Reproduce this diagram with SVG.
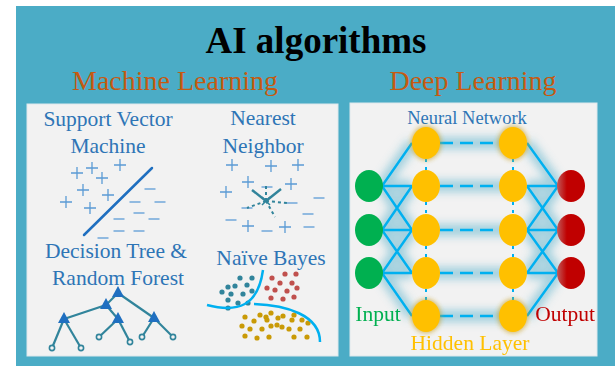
<svg xmlns="http://www.w3.org/2000/svg" width="615" height="366" viewBox="0 0 615 366">
<defs>
<style>
.title{font-size:37px;font-weight:bold;fill:#000}
.sub{font-size:28px;fill:#C55A11}
.lbl{font-size:21.5px;fill:#2E75B6}
.pm{stroke:#5B9BD5;stroke-width:1.3;fill:none}
.teal{stroke:#31849B;fill:none}
.tri{fill:#1F6FC0}
.leaf{fill:#F2F2F2;stroke:#31849B;stroke-width:1.6}
.dt{fill:#31849B}
.dr{fill:#C0504D}
.dg{fill:#C99A06}
.curve{stroke:#00B0F0;stroke-width:2.5;fill:none}
.conn{stroke:#00B0F0;stroke-width:2.4;fill:none}
.dash{stroke:#00B0F0;stroke-width:2.4;stroke-dasharray:13 7;fill:none}
.dot{stroke:#00B0F0;stroke-width:2;stroke-dasharray:3 5;fill:none}
.glow{stroke:#5FB4CE;stroke-width:12;fill:none;opacity:0.55}
.hid{fill:#FFC000}
.inp{fill:#00B050}
.out{fill:url(#redg)}
</style>
<filter id="blur" x="-20%" y="-20%" width="140%" height="140%"><feGaussianBlur stdDeviation="4"/></filter>
<filter id="sblur" x="-50%" y="-50%" width="200%" height="200%"><feGaussianBlur stdDeviation="2"/></filter>
<linearGradient id="redg" x1="0" y1="0" x2="1" y2="0">
<stop offset="0" stop-color="#C25A5A"/>
<stop offset="0.35" stop-color="#C00000"/>
<stop offset="1" stop-color="#C00000"/>
</linearGradient>
<path id="plus" d="M-6,0H6M0,-6V6"/>
<path id="minus" d="M-5.5,0H5.5"/>
</defs>

<rect x="16" y="6" width="599" height="360" fill="#4BACC6"/>
<g font-family="Liberation Serif, Times New Roman, serif">
<text class="title" x="316" y="53" text-anchor="middle" font-family="Liberation Serif, Times New Roman, serif">AI algorithms</text>
<text class="sub" x="175" y="90" text-anchor="middle" font-family="Liberation Serif, Times New Roman, serif">Machine Learning</text>
<text class="sub" x="473" y="90" text-anchor="middle" font-family="Liberation Serif, Times New Roman, serif">Deep Learning</text>
</g>

<g id="ml-panel">
<rect x="27" y="104" width="311" height="252" fill="#F2F2F2" stroke="#DDE8EC" stroke-width="1"/>
</g>

<g id="svm">
<text class="lbl" x="108" y="126" text-anchor="middle" font-family="Liberation Serif, Times New Roman, serif">Support Vector</text>
<text class="lbl" x="108" y="153" text-anchor="middle" font-family="Liberation Serif, Times New Roman, serif">Machine</text>
<g class="pm">
<use href="#plus" x="77" y="173"/><use href="#plus" x="92" y="168"/><use href="#plus" x="102" y="178"/><use href="#plus" x="120" y="165"/>
<use href="#plus" x="83" y="190"/><use href="#plus" x="108" y="195"/><use href="#plus" x="66" y="202"/><use href="#plus" x="90" y="208"/>
<use href="#minus" x="150" y="189"/><use href="#minus" x="135" y="202"/><use href="#minus" x="160" y="202"/><use href="#minus" x="139" y="213"/>
<use href="#minus" x="154" y="219"/><use href="#minus" x="119" y="219"/><use href="#minus" x="119" y="231"/><use href="#minus" x="139" y="231"/><use href="#minus" x="103" y="238"/>
</g>
<line x1="152" y1="168" x2="84" y2="235" stroke="#1F6FC0" stroke-width="2.5" stroke-linecap="round"/>
</g>

<g id="nearest-neighbor">
<text class="lbl" x="263" y="125" text-anchor="middle" font-family="Liberation Serif, Times New Roman, serif">Nearest</text>
<text class="lbl" x="263" y="153" text-anchor="middle" font-family="Liberation Serif, Times New Roman, serif">Neighbor</text>
<g class="pm">
<use href="#plus" x="232" y="165"/><use href="#plus" x="271" y="166"/><use href="#plus" x="298" y="165"/><use href="#plus" x="248" y="182"/>
<use href="#plus" x="291" y="184"/><use href="#plus" x="226" y="192"/><use href="#plus" x="248" y="226"/><use href="#plus" x="285" y="227"/>
<use href="#minus" x="267" y="187"/><use href="#minus" x="319" y="198"/><use href="#minus" x="292" y="203"/><use href="#minus" x="247" y="208"/>
<use href="#minus" x="231" y="220"/><use href="#minus" x="308" y="214"/><use href="#minus" x="267" y="231"/><use href="#minus" x="309" y="227"/>
</g>
<g class="teal" stroke-width="2.4">
<line x1="266" y1="201" x2="252" y2="190"/>
<line x1="266" y1="201" x2="281" y2="189"/>
</g>
<g class="teal" stroke-width="2" stroke-dasharray="3 3">
<line x1="266" y1="201" x2="266" y2="186"/>
<line x1="266" y1="201" x2="247" y2="208"/>
<line x1="266" y1="201" x2="287" y2="203"/>
<line x1="266" y1="201" x2="275" y2="217"/>
</g>
<path d="M262,197L270,205M270,197L262,205" stroke="#31849B" stroke-width="1.5"/>
</g>

<g id="decision-tree">
<text class="lbl" x="116" y="258" text-anchor="middle" font-family="Liberation Serif, Times New Roman, serif">Decision Tree &amp;</text>
<text class="lbl" x="118" y="285" text-anchor="middle" font-family="Liberation Serif, Times New Roman, serif">Random Forest</text>
<g class="teal" stroke-width="2.2">
<line x1="118" y1="293" x2="106" y2="305"/>
<line x1="118" y1="293" x2="154" y2="318"/>
<line x1="106" y1="305" x2="64" y2="319"/>
<line x1="106" y1="305" x2="118" y2="319"/>
<line x1="64" y1="319" x2="52" y2="348"/>
<line x1="64" y1="319" x2="81" y2="348"/>
<line x1="118" y1="319" x2="99" y2="337"/>
<line x1="118" y1="319" x2="130" y2="342"/>
<line x1="154" y1="318" x2="142" y2="337"/>
<line x1="154" y1="318" x2="173" y2="337"/>
</g>
<g class="tri">
<path d="M118,286L124,297L112,297Z"/>
<path d="M106,298L112,309L100,309Z"/>
<path d="M64,312L70,323L58,323Z"/>
<path d="M118,312L124,323L112,323Z"/>
<path d="M154,311L160,322L148,322Z"/>
</g>
<g class="leaf">
<circle cx="52" cy="348" r="2.6"/><circle cx="81" cy="348" r="2.6"/><circle cx="99" cy="337" r="2.6"/>
<circle cx="130" cy="342" r="2.6"/><circle cx="142" cy="337" r="2.6"/><circle cx="173" cy="337" r="2.6"/>
</g>
</g>

<g id="naive-bayes">
<text class="lbl" x="271" y="265" text-anchor="middle" font-family="Liberation Serif, Times New Roman, serif">Naïve Bayes</text>
<g class="dt">
<circle cx="240" cy="278" r="2.6"/><circle cx="252" cy="278" r="2.6"/><circle cx="228" cy="287" r="2.6"/><circle cx="235" cy="286" r="2.6"/>
<circle cx="247" cy="285" r="2.6"/><circle cx="222" cy="292" r="2.6"/><circle cx="231" cy="294" r="2.6"/><circle cx="243" cy="294" r="2.6"/>
<circle cx="252" cy="291" r="2.6"/><circle cx="228" cy="300" r="2.6"/><circle cx="238" cy="303" r="2.6"/><circle cx="248" cy="303" r="2.6"/><circle cx="228" cy="308" r="2.6"/>
</g>
<g class="dr">
<circle cx="285" cy="274" r="2.6"/><circle cx="296" cy="274" r="2.6"/><circle cx="272" cy="278" r="2.6"/><circle cx="280" cy="283" r="2.6"/>
<circle cx="292" cy="283" r="2.6"/><circle cx="267" cy="288" r="2.6"/><circle cx="275" cy="290" r="2.6"/><circle cx="287" cy="291" r="2.6"/>
<circle cx="297" cy="288" r="2.6"/><circle cx="271" cy="298" r="2.6"/><circle cx="283" cy="299" r="2.6"/><circle cx="294" cy="297" r="2.6"/>
</g>
<g class="dg">
<circle cx="245" cy="317" r="2.6"/><circle cx="254" cy="321" r="2.6"/><circle cx="260" cy="315" r="2.6"/><circle cx="267" cy="320" r="2.6"/>
<circle cx="271" cy="313" r="2.6"/><circle cx="278" cy="318" r="2.6"/><circle cx="283" cy="316" r="2.6"/><circle cx="292" cy="320" r="2.6"/>
<circle cx="294" cy="315" r="2.6"/><circle cx="302" cy="320" r="2.6"/><circle cx="308" cy="323" r="2.6"/><circle cx="242" cy="326" r="2.6"/>
<circle cx="250" cy="329" r="2.6"/><circle cx="262" cy="329" r="2.6"/><circle cx="271" cy="326" r="2.6"/><circle cx="282" cy="327" r="2.6"/>
<circle cx="289" cy="329" r="2.6"/><circle cx="300" cy="329" r="2.6"/><circle cx="245" cy="336" r="2.6"/><circle cx="257" cy="338" r="2.6"/>
<circle cx="269" cy="337" r="2.6"/><circle cx="294" cy="337" r="2.6"/><circle cx="307" cy="337" r="2.6"/><circle cx="266" cy="317" r="2.6"/><circle cx="277" cy="325" r="2.6"/>
</g>
<path class="curve" d="M207,305C238,313 258,306 263,270"/>
<path class="curve" d="M254,304C286,305 320,315 320,342"/>
</g>

<g id="dl-panel">
<rect x="350" y="103" width="247" height="253" fill="#F2F2F2" stroke="#DDE8EC" stroke-width="1"/>
<text x="467" y="124" text-anchor="middle" font-size="18.5" fill="#2E75B6" font-family="Liberation Serif, Times New Roman, serif">Neural Network</text>
</g>

<g id="glow" filter="url(#blur)">
<path class="glow" d="M382,186L412,143M382,186H412M382,186L412,230M382,230L412,186M382,230H412M382,230L412,273M382,273L412,230M382,273H412M382,273L412,316"/>
<path class="glow" d="M527,143L558,186M527,186H558M527,186L558,230M527,230L558,186M527,230H558M527,230L558,273M527,273L558,230M527,273H558M527,316L558,273"/>
<path class="glow" d="M426,143H513M426,186H513M426,230H513M426,273H513M426,316H513"/>
</g>

<g id="connectors">
<path class="conn" d="M382,186L412,143M382,186H412M382,186L412,230M382,230L412,186M382,230H412M382,230L412,273M382,273L412,230M382,273H412M382,273L412,316"/>
<path class="conn" d="M527,143L558,186M527,186H558M527,186L558,230M527,230L558,186M527,230H558M527,230L558,273M527,273L558,230M527,273H558M527,316L558,273"/>
<path class="dash" d="M440,143H499M440,186H499M440,230H499M440,273H499M440,316H499"/>
<path class="dot" d="M426,159V170M426,202V214M426,246V257M426,289V300M513,159V170M513,202V214M513,246V257M513,289V300"/>
</g>

<g id="input-1"><ellipse class="inp" cx="369" cy="186" rx="14" ry="16"/></g>
<g id="input-2"><ellipse class="inp" cx="369" cy="230" rx="14" ry="16"/></g>
<g id="input-3"><ellipse class="inp" cx="369" cy="273" rx="14" ry="16"/></g>

<g id="hidden-1-1"><ellipse cx="426" cy="143" rx="15.5" ry="17.5" fill="#C9A227" opacity="0.6" filter="url(#sblur)"/><ellipse class="hid" cx="426" cy="143" rx="14" ry="16"/></g>
<g id="hidden-1-2"><ellipse class="hid" cx="426" cy="186" rx="14" ry="16"/></g>
<g id="hidden-1-3"><ellipse class="hid" cx="426" cy="230" rx="14" ry="16"/></g>
<g id="hidden-1-4"><ellipse class="hid" cx="426" cy="273" rx="14" ry="16"/></g>
<g id="hidden-1-5"><ellipse cx="426" cy="316" rx="15.5" ry="17.5" fill="#C9A227" opacity="0.6" filter="url(#sblur)"/><ellipse class="hid" cx="426" cy="316" rx="14" ry="16"/></g>

<g id="hidden-2-1"><ellipse cx="513" cy="143" rx="15.5" ry="17.5" fill="#C9A227" opacity="0.6" filter="url(#sblur)"/><ellipse class="hid" cx="513" cy="143" rx="14" ry="16"/></g>
<g id="hidden-2-2"><ellipse class="hid" cx="513" cy="186" rx="14" ry="16"/></g>
<g id="hidden-2-3"><ellipse class="hid" cx="513" cy="230" rx="14" ry="16"/></g>
<g id="hidden-2-4"><ellipse class="hid" cx="513" cy="273" rx="14" ry="16"/></g>
<g id="hidden-2-5"><ellipse cx="513" cy="316" rx="15.5" ry="17.5" fill="#C9A227" opacity="0.6" filter="url(#sblur)"/><ellipse class="hid" cx="513" cy="316" rx="14" ry="16"/></g>

<g id="output-1"><ellipse class="out" cx="571" cy="186" rx="14" ry="16"/></g>
<g id="output-2"><ellipse class="out" cx="571" cy="230" rx="14" ry="16"/></g>
<g id="output-3"><ellipse class="out" cx="571" cy="273" rx="14" ry="16"/></g>

<text x="378" y="321" text-anchor="middle" font-size="21.5" fill="#00B050" font-family="Liberation Serif, Times New Roman, serif">Input</text>
<text x="565" y="321" text-anchor="middle" font-size="21.5" fill="#C00000" font-family="Liberation Serif, Times New Roman, serif">Output</text>
<text x="470" y="350" text-anchor="middle" font-size="21.5" fill="#FFC000" font-family="Liberation Serif, Times New Roman, serif">Hidden Layer</text>
</svg>
